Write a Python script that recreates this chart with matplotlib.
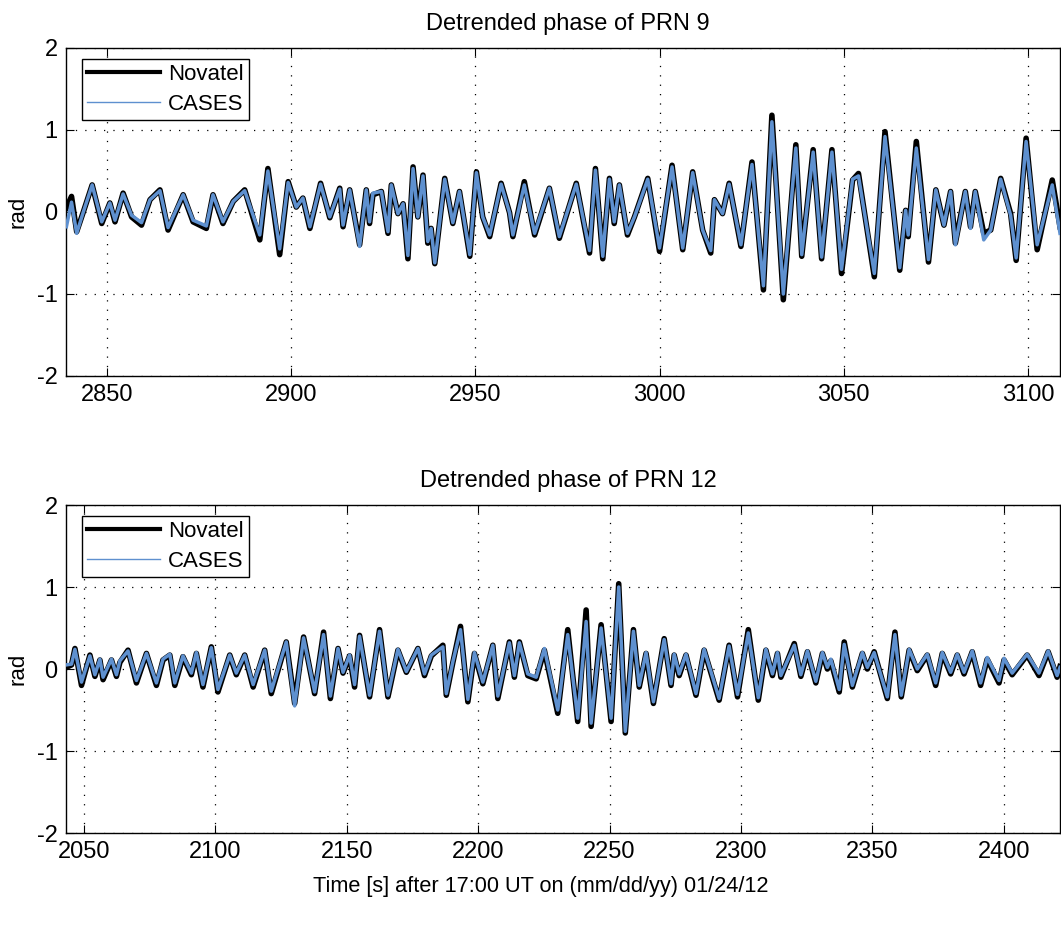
import matplotlib
matplotlib.use("Agg")
import matplotlib.pyplot as plt
from matplotlib.lines import Line2D

plt.rcParams['font.family'] = ['Liberation Sans', 'DejaVu Sans']

# ---------------- data: PRN 9 ----------------
t9 = [2839.0, 2840.4, 2841.8, 2843.6, 2846.0, 2848.6, 2850.8, 2852.2, 2854.4, 2856.7,
      2859.4, 2861.7, 2864.4, 2866.6, 2870.7, 2873.4, 2877.0, 2878.8, 2881.5, 2884.3,
      2887.4, 2891.5, 2893.7, 2896.9, 2899.2, 2901.4, 2903.2, 2905.1, 2908.0, 2910.5,
      2913.2, 2914.1, 2915.9, 2918.6, 2920.4, 2921.3, 2922.2, 2924.5, 2926.3, 2927.2,
      2929.0, 2930.4, 2931.7, 2933.1, 2934.4, 2935.8, 2937.1, 2938.0, 2939.0, 2941.7,
      2943.9, 2945.7, 2948.5, 2950.3, 2952.0, 2953.9, 2957.0, 2959.3, 2960.2, 2963.3,
      2966.1, 2970.1, 2972.8, 2977.4, 2981.0, 2982.6, 2984.6, 2986.4, 2987.7, 2989.1,
      2991.3, 2993.2, 2996.8, 3000.0, 3003.4, 3006.3, 3009.0, 3011.7, 3013.9, 3014.9,
      3017.1, 3018.9, 3022.1, 3025.1, 3028.2, 3030.5, 3033.6, 3037.0, 3038.6, 3041.7,
      3044.0, 3046.8, 3049.4, 3052.4, 3054.0, 3058.3, 3061.2, 3065.2, 3066.8, 3067.5,
      3069.7, 3073.0, 3075.0, 3077.2, 3079.0, 3080.3, 3083.0, 3084.4, 3085.7, 3088.0,
      3089.9, 3092.6, 3095.3, 3096.8, 3099.5, 3102.5, 3106.6, 3108.7]
novatel9 = [0.05, 0.19, -0.24, 0.0, 0.33, -0.14, 0.11, -0.12, 0.23, -0.06,
            -0.16, 0.15, 0.27, -0.22, 0.21, -0.12, -0.2, 0.21, -0.14, 0.13,
            0.27, -0.34, 0.53, -0.52, 0.37, 0.06, 0.17, -0.2, 0.35, -0.07,
            0.29, -0.18, 0.27, -0.40, 0.27, -0.14, 0.21, 0.25, -0.26, 0.33,
            -0.02, 0.10, -0.57, 0.55, -0.06, 0.45, -0.38, -0.2, -0.63, 0.41,
            -0.14, 0.25, -0.54, 0.49, -0.06, -0.30, 0.35, -0.01, -0.30, 0.37,
            -0.28, 0.29, -0.32, 0.35, -0.50, 0.53, -0.57, 0.41, -0.14, 0.33,
            -0.28, -0.06, 0.41, -0.48, 0.57, -0.46, 0.49, -0.22, -0.50, 0.15,
            -0.02, 0.35, -0.42, 0.61, -0.95, 1.18, -1.07, 0.82, -0.54, 0.76,
            -0.57, 0.76, -0.75, 0.39, 0.47, -0.79, 0.98, -0.71, 0.02, -0.30,
            0.86, -0.61, 0.27, -0.16, 0.25, -0.38, 0.25, -0.18, 0.25, -0.26,
            -0.22, 0.41, -0.02, -0.59, 0.90, -0.46, 0.39, -0.18]
cases9 = [-0.18, 0.12, -0.26, 0.0, 0.33, -0.12, 0.11, -0.10, 0.22, -0.04,
          -0.13, 0.15, 0.26, -0.19, 0.21, -0.10, -0.17, 0.21, -0.12, 0.13,
          0.26, -0.28, 0.50, -0.45, 0.36, 0.06, 0.17, -0.18, 0.34, -0.06,
          0.28, -0.16, 0.27, -0.42, 0.27, -0.12, 0.23, 0.25, -0.24, 0.33,
          -0.02, 0.10, -0.53, 0.53, -0.06, 0.44, -0.36, -0.2, -0.62, 0.40,
          -0.13, 0.25, -0.52, 0.48, -0.06, -0.28, 0.34, -0.01, -0.28, 0.33,
          -0.26, 0.29, -0.30, 0.34, -0.47, 0.51, -0.54, 0.40, -0.12, 0.33,
          -0.26, -0.06, 0.40, -0.44, 0.55, -0.44, 0.48, -0.22, -0.47, 0.15,
          -0.02, 0.34, -0.40, 0.58, -0.90, 1.10, -1.00, 0.78, -0.52, 0.73,
          -0.55, 0.73, -0.70, 0.40, 0.44, -0.75, 0.92, -0.68, 0.02, -0.28,
          0.78, -0.58, 0.27, -0.16, 0.25, -0.40, 0.25, -0.20, 0.25, -0.34,
          -0.22, 0.40, -0.04, -0.56, 0.86, -0.40, 0.33, -0.26]

# ---------------- data: PRN 12 ----------------
t12 = [2043.3, 2045.3, 2046.6, 2049.1, 2052.3, 2054.2, 2056.1, 2057.3, 2060.5, 2062.4,
       2063.7, 2066.8, 2070.0, 2073.8, 2077.6, 2080.1, 2082.7, 2084.6, 2087.7, 2090.9,
       2092.8, 2095.3, 2098.5, 2101.0, 2105.5, 2108.0, 2111.2, 2114.4, 2118.8, 2121.3,
       2127.0, 2130.2, 2133.6, 2137.8, 2141.2, 2143.8, 2146.7, 2148.6, 2151.1, 2153.0,
       2154.9, 2158.7, 2162.5, 2165.7, 2169.5, 2172.7, 2177.1, 2179.6, 2182.2, 2186.6,
       2187.9, 2190.4, 2193.3, 2196.1, 2198.6, 2201.8, 2205.6, 2207.5, 2211.9, 2213.8,
       2215.7, 2218.9, 2222.1, 2225.2, 2230.3, 2234.1, 2237.9, 2241.1, 2243.0, 2246.8,
       2250.6, 2253.5, 2256.0, 2259.1, 2261.3, 2263.9, 2266.7, 2270.8, 2273.4, 2274.6,
       2276.5, 2279.1, 2282.9, 2286.0, 2291.7, 2295.5, 2298.7, 2302.8, 2306.6, 2309.5,
       2312.0, 2313.9, 2315.2, 2320.3, 2322.8, 2325.3, 2328.5, 2331.0, 2332.9, 2334.2,
       2337.4, 2339.3, 2342.4, 2346.2, 2348.1, 2350.7, 2355.7, 2358.6, 2361.0, 2364.0,
       2367.1, 2370.9, 2374.1, 2376.6, 2379.8, 2382.3, 2384.9, 2388.0, 2391.2, 2393.7,
       2398.2, 2400.1, 2403.2, 2408.9, 2413.4, 2416.9, 2420.3, 2421.4]
novatel12 = [0.02, 0.05, 0.25, -0.2, 0.17, -0.09, 0.11, -0.13, 0.11, -0.09,
             0.08, 0.23, -0.17, 0.19, -0.20, 0.11, 0.17, -0.2, 0.15, -0.07,
             0.19, -0.22, 0.27, -0.28, 0.17, -0.07, 0.17, -0.22, 0.23, -0.3,
             0.33, -0.42, 0.39, -0.3, 0.45, -0.36, 0.25, -0.05, 0.16, -0.22,
             0.41, -0.34, 0.48, -0.34, 0.23, -0.04, 0.25, -0.08, 0.16, 0.29,
             -0.32, 0.08, 0.52, -0.4, 0.19, -0.18, 0.29, -0.36, 0.33, -0.1,
             0.33, -0.08, -0.12, 0.23, -0.54, 0.48, -0.64, 0.72, -0.70, 0.54,
             -0.64, 1.04, -0.78, 0.48, -0.22, 0.19, -0.42, 0.37, -0.2, 0.17,
             -0.08, 0.17, -0.32, 0.23, -0.38, 0.29, -0.34, 0.48, -0.38, 0.23,
             -0.08, 0.19, -0.1, 0.31, -0.09, 0.21, -0.17, 0.19, 0.0, 0.1,
             -0.28, 0.33, -0.22, 0.19, 0.0, 0.21, -0.36, 0.45, -0.34, 0.23,
             -0.02, 0.17, -0.2, 0.19, -0.06, 0.17, -0.06, 0.21, -0.2, 0.12,
             -0.17, 0.11, -0.07, 0.17, -0.08, 0.21, -0.1, 0.03]
cases12 = [0.05, 0.06, 0.24, -0.16, 0.16, -0.07, 0.12, -0.10, 0.12, -0.07,
           0.10, 0.22, -0.14, 0.19, -0.17, 0.12, 0.18, -0.17, 0.16, -0.05,
           0.20, -0.19, 0.26, -0.25, 0.17, -0.05, 0.17, -0.19, 0.23, -0.27,
           0.33, -0.45, 0.38, -0.28, 0.42, -0.33, 0.25, -0.04, 0.17, -0.19,
           0.40, -0.32, 0.46, -0.32, 0.24, -0.03, 0.25, -0.06, 0.17, 0.27,
           -0.30, 0.09, 0.48, -0.37, 0.20, -0.16, 0.29, -0.33, 0.32, -0.08,
           0.32, -0.06, -0.10, 0.25, -0.50, 0.42, -0.60, 0.58, -0.66, 0.50,
           -0.60, 1.00, -0.76, 0.46, -0.20, 0.20, -0.40, 0.36, -0.18, 0.18,
           -0.06, 0.18, -0.30, 0.24, -0.36, 0.28, -0.31, 0.44, -0.35, 0.24,
           -0.06, 0.20, -0.08, 0.29, -0.07, 0.22, -0.15, 0.20, 0.02, 0.12,
           -0.25, 0.30, -0.20, 0.20, 0.02, 0.20, -0.34, 0.42, -0.32, 0.24,
           0.0, 0.18, -0.17, 0.20, -0.04, 0.18, -0.04, 0.22, -0.17, 0.14,
           -0.14, 0.13, -0.05, 0.18, -0.05, 0.22, -0.08, 0.02]

panels = [
    dict(t=t9, nov=novatel9, cas=cases9, title="Detrended phase of PRN 9",
         xlim=(2838.9, 3108.7), xticks=[2850, 2900, 2950, 3000, 3050, 3100]),
    dict(t=t12, nov=novatel12, cas=cases12, title="Detrended phase of PRN 12",
         xlim=(2043.2, 2421.4), xticks=[2050, 2100, 2150, 2200, 2250, 2300, 2350, 2400]),
]
yticks = [-2, -1, 0, 1, 2]

BLUE = '#5e90cf'
W, H = 1061, 927
fig = plt.figure(figsize=(W / 100, H / 100), dpi=100)

axes_px = [(66, 48, 1060, 376), (66, 505, 1060, 833)]
for p, (x0, y0, x1, y1) in zip(panels, axes_px):
    ax = fig.add_axes([x0 / W, 1 - y1 / H, (x1 - x0) / W, (y1 - y0) / H])
    ax.plot(p['t'], p['nov'], color='black', lw=4.0, solid_joinstyle='round', zorder=2)
    ax.plot(p['t'], p['cas'], color=BLUE, lw=2.5, solid_joinstyle='round', zorder=3)
    ax.set_xlim(*p['xlim'])
    ax.set_ylim(-2, 2)
    ax.set_xticks(p['xticks'])
    ax.set_yticks(yticks)
    ax.set_yticklabels([str(v) for v in yticks])
    ax.grid(True, color='black', linestyle=(0, (1, 6.5)), linewidth=0.9)
    ax.tick_params(direction='in', length=6, width=0.8, labelsize=17, pad=6,
                   top=True, right=True)
    for s in ax.spines.values():
        s.set_linewidth(1.0)
    ax.set_title(p['title'], fontsize=17, pad=13, x=(568 - x0) / (x1 - x0))
    ax.set_ylabel('rad', fontsize=16, labelpad=6)
    handles = [Line2D([], [], color='black', lw=3.0),
               Line2D([], [], color=BLUE, lw=1.0)]
    leg = ax.legend(handles, ['Novatel', 'CASES'], loc='upper left',
                    bbox_to_anchor=(16 / 994, 1 - 11 / 328), borderaxespad=0,
                    fontsize=16, fancybox=False, framealpha=1, edgecolor='black',
                    handlelength=3.3, handletextpad=0.35, labelspacing=0.4,
                    borderpad=0.22)
    leg.get_frame().set_linewidth(1.0)
    if p is panels[1]:
        ax.set_xlabel('Time [s] after 17:00 UT on (mm/dd/yy) 01/24/12',
                      fontsize=15.7)
        ax.xaxis.set_label_coords((541 - x0) / (x1 - x0), -0.13)

fig.savefig('out.png', dpi=100)
